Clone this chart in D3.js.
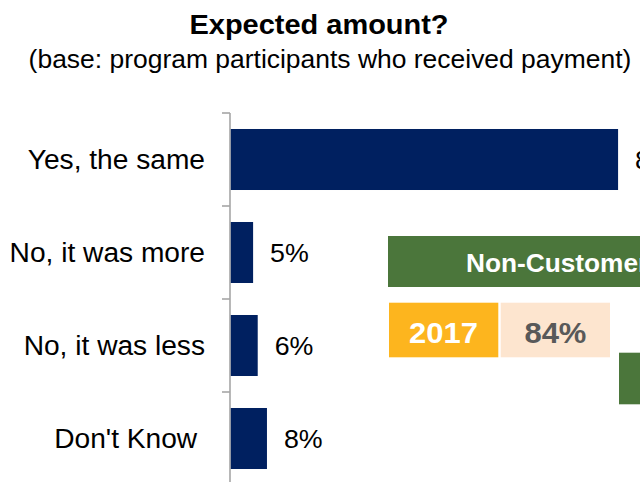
<!DOCTYPE html>
<html>
<head>
<meta charset="utf-8">
<script src="https://cdn.jsdelivr.net/npm/d3@7/dist/d3.min.js"></script>
<style>
  html, body { margin: 0; padding: 0; background: #fff; }
  svg { display: block; font-family: Arial, "Liberation Sans", sans-serif; }
  text { white-space: pre; }
</style>
</head>
<body>
<svg id="chart" width="640" height="482"></svg>
<script>
// Survey answers and their shares (percent)
const categories = ["Yes, the same", "No, it was more", "No, it was less", "Don't Know "];
const values = [84, 5, 6, 8];

// Comparison panel: group header, prior-year label and its share
const panelHeader = ["Non-Customers"];
const panelYears = ["2017"];
const panelShares = [84];

const titleText = "Expected amount?";
const subtitleText = "(base: program participants who received payment)";

const SX = 1.05; // slight horizontal stretch applied to all lettering

const svg = d3.select("#chart");

function label(sel, x, y, str, opts) {
  return sel.append("text")
    .attr("transform", `translate(${x},${y}) scale(${SX},1)`)
    .attr("text-anchor", opts.anchor || "start")
    .attr("font-size", opts.size)
    .attr("font-weight", opts.weight || "normal")
    .attr("fill", opts.fill || "#000")
    .text(str);
}

// Titles
label(svg, 319, 34, titleText, { anchor: "middle", size: 27.6, weight: "bold" });
label(svg, 330, 68, subtitleText, { anchor: "middle", size: 25.2 });

// Scales
const x = d3.scaleLinear().domain([0, 100]).range([230, 692]);
const y = d3.scaleBand().domain(categories).range([113, 485])
  .paddingInner(0.344).paddingOuter(0.172);

// Category axis with outward ticks at band boundaries
const axisG = svg.append("g");
axisG.append("line")
  .attr("x1", x(0)).attr("x2", x(0))
  .attr("y1", 113).attr("y2", 485)
  .attr("stroke", "#a6a6a6").attr("stroke-width", 1.6);
const bounds = categories.map((c, i) => 113 + i * y.step());
axisG.selectAll("line.tick").data(bounds).join("line")
  .attr("class", "tick")
  .attr("x1", x(0) - 8).attr("x2", x(0))
  .attr("y1", d => d).attr("y2", d => d)
  .attr("stroke", "#a6a6a6").attr("stroke-width", 1.6);

// Bars
svg.append("g").selectAll("rect").data(values).join("rect")
  .attr("x", x(0) + 0.8)
  .attr("y", (d, i) => y(categories[i]))
  .attr("width", d => x(d) - x(0) - 0.8)
  .attr("height", y.bandwidth())
  .attr("fill", "#002060");

// Category labels
categories.forEach((c, i) => {
  label(svg, 205, y(c) + y.bandwidth() / 2 + 9, c, { anchor: "end", size: 26.8 });
});

// Value labels
values.forEach((v, i) => {
  label(svg, x(v) + 17, y(categories[i]) + y.bandwidth() / 2 + 9, v + "%", { size: 25.5 });
});

// Comparison panel
const panel = svg.append("g");
panel.append("rect").attr("x", 388).attr("y", 236).attr("width", 348).attr("height", 51).attr("fill", "#4b763b");
label(panel, 466, 271.5, panelHeader[0], { size: 25, weight: "bold", fill: "#fff" });

panel.append("rect").attr("x", 389).attr("y", 302.7).attr("width", 109.3).attr("height", 54.6).attr("fill", "#fdb51e");
label(panel, 443.5, 343, panelYears[0], { anchor: "middle", size: 29.5, weight: "bold", fill: "#fff" });

panel.append("rect").attr("x", 500.7).attr("y", 302.7).attr("width", 109.3).attr("height", 54.6).attr("fill", "#fde5cf");
label(panel, 555.4, 343, panelShares[0] + "%", { anchor: "middle", size: 29.5, weight: "bold", fill: "#595959" });

panel.append("rect").attr("x", 619).attr("y", 352.7).attr("width", 120).attr("height", 51.6).attr("fill", "#4b763b");
</script>
</body>
</html>
